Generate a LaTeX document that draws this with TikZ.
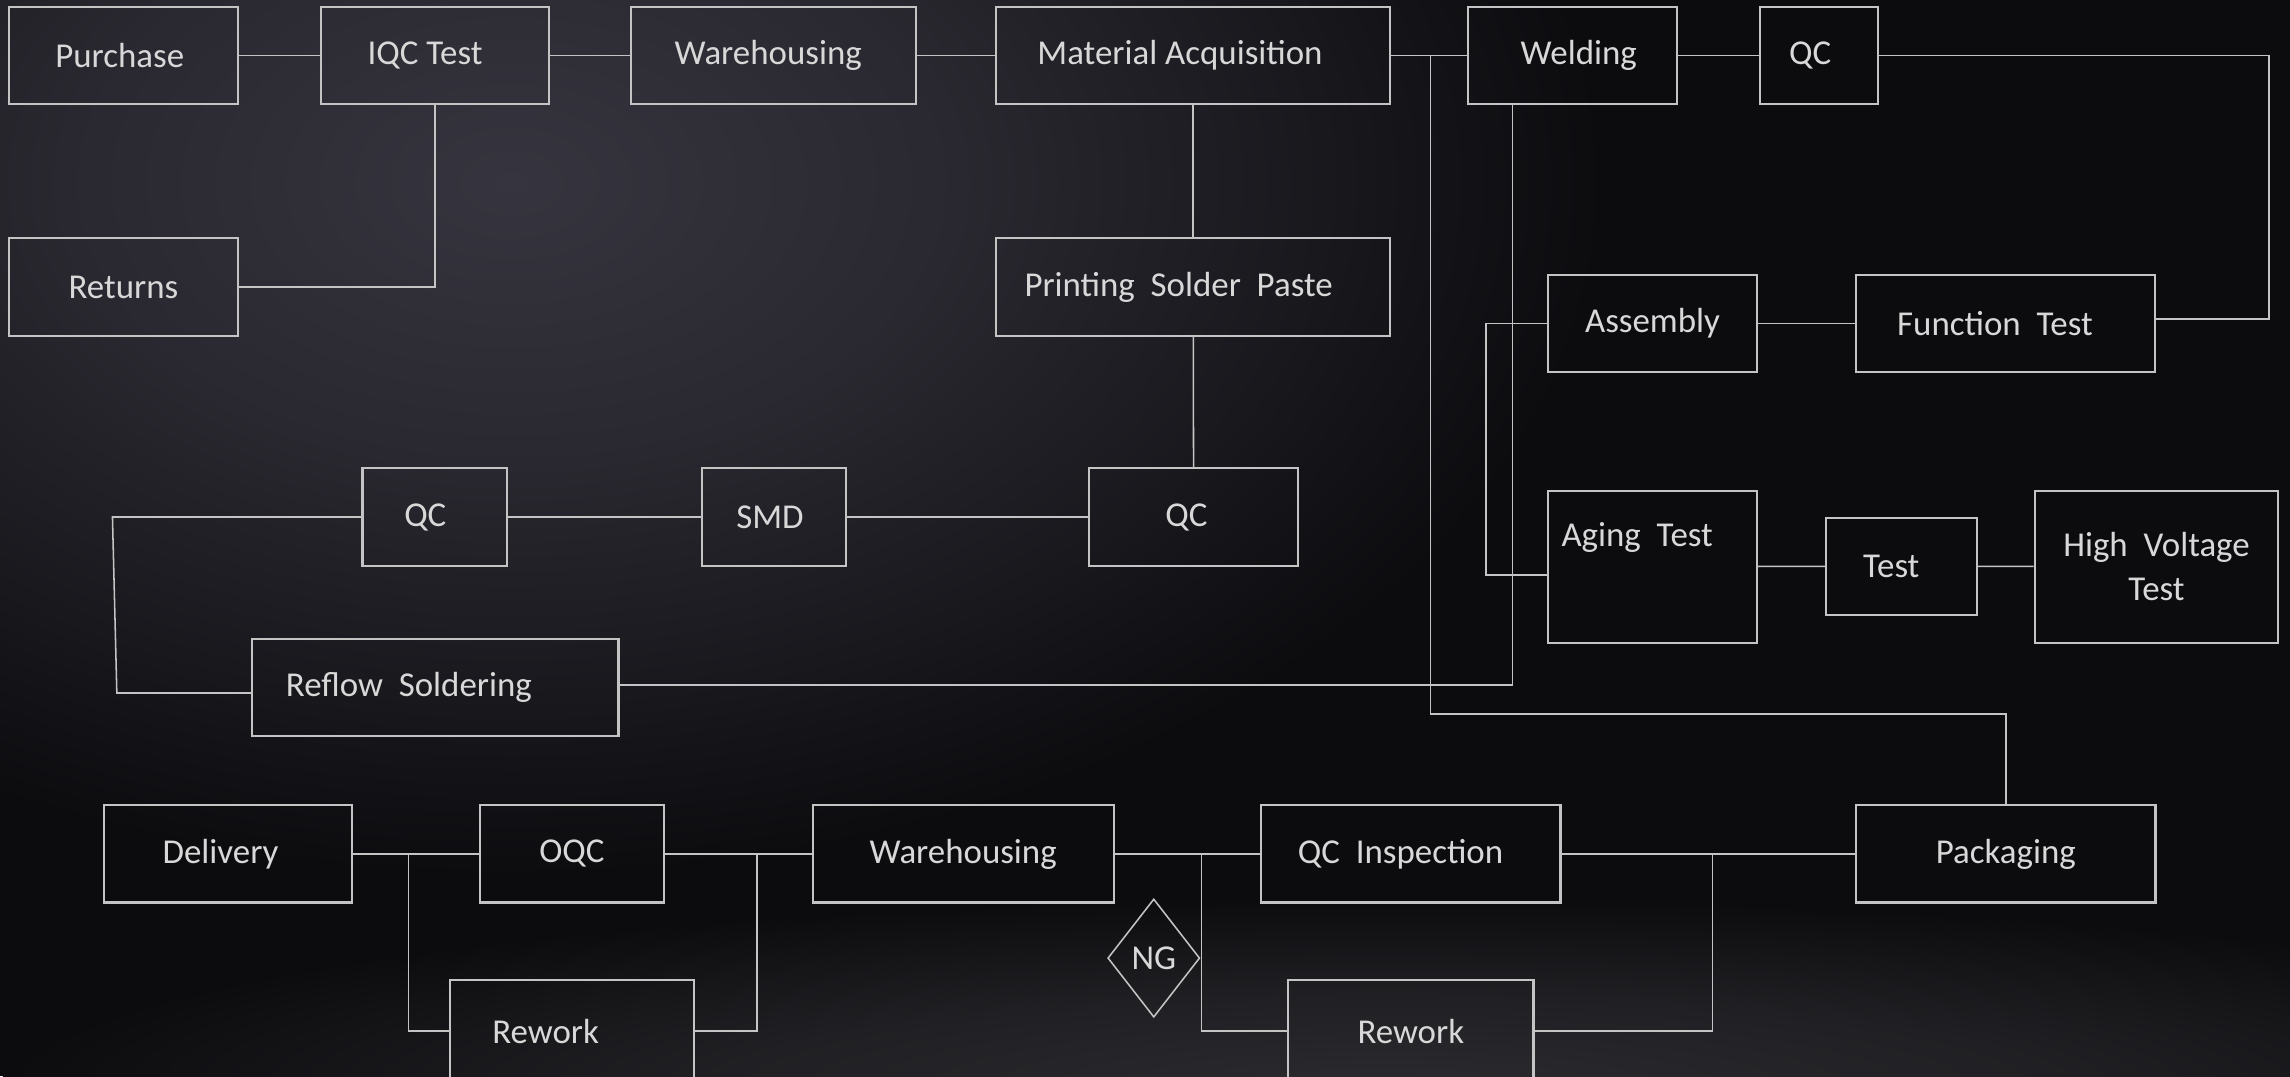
\documentclass[tikz,border=0pt]{standalone}
\usepackage{fontspec}
\setmainfont{Carlito}
\usepackage{xcolor}
\usepackage{tikz}
\usetikzlibrary{shapes.geometric, positioning}
\definecolor{bgdark}{HTML}{0C0C0F}
\definecolor{glowtop}{HTML}{36343E}
\definecolor{glowlow}{HTML}{2B2B2F}
\definecolor{edgegray}{HTML}{C4C4C4}
\definecolor{txtgray}{HTML}{D8D8D8}
\pgfdeclareradialshading{topglow}{\pgfpointorigin}{color(0bp)=(glowtop); color(10bp)=(glowtop!70!bgdark); color(25bp)=(bgdark); color(50bp)=(bgdark)}
\pgfdeclareradialshading{lowglow}{\pgfpointorigin}{color(0bp)=(glowlow); color(12bp)=(glowlow!65!bgdark); color(25bp)=(bgdark); color(50bp)=(bgdark)}
\tikzset{
  stagetext/.style={text=txtgray, font=\fontsize{13.6}{17}\selectfont},
  stage/.style={rectangle, draw=edgegray, line width=0.8pt, stagetext, align=center, inner sep=2pt, minimum height=1.33cm},
  nudge/.style={execute at begin node={\hspace*{#1}}, execute at end node={\hspace*{-#1}}},
  ngmark/.style={diamond, draw=edgegray, line width=0.6pt, stagetext, inner sep=0pt, minimum width=1.26cm, minimum height=1.62cm},
  link/.style={draw=edgegray, line width=0.6pt}
}
\begin{document}
\begin{tikzpicture}[x=0.02cm, y=-0.02cm]
  \useasboundingbox (0,0) rectangle (1568,737);
  \begin{scope}
    \clip (0,0) rectangle (1568,737);
    \fill[bgdark] (0,0) rectangle (1568,737);
    \shade[shading=topglow] (350,125) ellipse [x radius=15cm, y radius=9.5cm];
    \shade[shading=lowglow] (950,745) ellipse [x radius=19cm, y radius=2.6cm];
  \end{scope}

  \node[stage, minimum width=3.14cm, minimum height=1.32cm, nudge=-0.05cm] (pur) at (84.5,38) {Purchase};
  \node[stage, minimum width=3.12cm, minimum height=1.32cm, nudge=-0.14cm] (iqc) at (298,38) {IQC Test};
  \node[stage, minimum width=3.90cm, minimum height=1.32cm, nudge=-0.07cm] (wh1) at (529.5,38) {Warehousing};
  \node[stage, minimum width=5.40cm, minimum height=1.32cm, nudge=-0.18cm] (mat) at (817,38) {Material Acquisition};
  \node[stage, minimum width=2.86cm, minimum height=1.32cm, nudge=0.09cm] (weld) at (1076.5,38) {Welding};
  \node[stage, minimum width=1.62cm, minimum height=1.32cm, nudge=-0.12cm] (qc1) at (1245.5,38) {QC};
  \node[stage, minimum width=3.14cm] (ret) at (84.5,196.5) {Returns};
  \node[stage, minimum width=5.40cm, nudge=-0.2cm] (paste) at (817,196.5) {Printing\ \ Solder\ \ Paste};
  \node[stage, minimum width=2.86cm] (asm) at (1131.5,221.5) {Assembly};
  \node[stage, minimum width=4.10cm, nudge=-0.14cm] (func) at (1373,221.5) {Function\ \ Test};
  \node[stage, minimum width=1.98cm, nudge=-0.13cm] (qc2) at (297.7,354) {QC};
  \node[stage, minimum width=1.97cm, nudge=-0.05cm] (smd) at (529.7,354) {SMD};
  \node[stage, minimum width=2.86cm, nudge=-0.1cm] (qc3) at (817.3,354) {QC};
  \node[stage, minimum width=5.02cm, nudge=-0.36cm] (reflow) at (298,470.5) {Reflow\ \ Soldering};
  \node[stage, minimum width=2.86cm, minimum height=2.08cm,
        label={[stagetext, xshift=-0.21cm, yshift=0.40cm]center:Aging\ \ Test}] (aging) at (1131.5,388) {};
  \node[stage, minimum width=2.06cm, nudge=-0.14cm] (test) at (1302,387.7) {Test};
  \node[stage, minimum width=3.34cm, minimum height=2.08cm] (hv) at (1476.6,388) {High\ \ Voltage\\Test};
  \node[stage, minimum width=3.40cm, nudge=-0.1cm] (deliv) at (156,584.7) {Delivery};
  \node[stage, minimum width=2.52cm] (oqc) at (391.6,584.7) {OQC};
  \node[stage, minimum width=4.12cm] (wh2) at (659.5,584.7) {Warehousing};
  \node[stage, minimum width=4.10cm, nudge=-0.14cm] (qcin) at (966,584.7) {QC\ \ Inspection};
  \node[stage, minimum width=4.10cm] (pack) at (1373.4,584.7) {Packaging};
  \node[stage, minimum width=3.34cm, minimum height=1.40cm, nudge=-0.36cm] (rw1) at (391.6,706) {Rework};
  \node[stage, minimum width=3.36cm, minimum height=1.40cm] (rw2) at (966,706) {Rework};
  \node[ngmark] (ng) at (790,656) {NG};

  \coordinate (mj) at (979.5,489);
  \coordinate (wt) at (1035.6,469);
  \coordinate (ab) at (1017.6,393.7);
  \coordinate (rt) at (1553.6,218.4);
  \coordinate (lp1) at (77,354);
  \coordinate (lp2) at (80,474.5);
  \coordinate (j1) at (279.8,584.7);
  \coordinate (j2) at (518.2,584.7);
  \coordinate (j3) at (822.8,584.7);
  \coordinate (j4) at (1172.6,584.7);

  \draw[link] (pur) -- (iqc);
  \draw[link] (iqc) -- (wh1);
  \draw[link] (wh1) -- (mat);
  \draw[link] (mat) -- (weld);
  \draw[link] (weld) -- (qc1);
  \draw[link] (qc1) -- (qc1 -| rt) -- (rt) -- (rt -| func.east);
  \draw[link] (iqc) |- (ret);
  \draw[link] (mat) -- (paste);
  \draw[link] (paste) -- (qc3);
  \draw[link] (qc3) -- (smd);
  \draw[link] (smd) -- (qc2);
  \draw[link] (qc2) -- (lp1) -- (lp2) -- (lp2 -| reflow.west);
  \draw[link] (reflow.east |- wt) -- (wt) -- (wt |- weld.south);
  \draw[link] (mj |- mat.east) -- (mj) -| (pack);
  \draw[link] (asm) -- (func);
  \draw[link] (asm.west) -| (ab) -- (ab -| aging.west);
  \draw[link] (aging) -- (test);
  \draw[link] (test) -- (hv);
  \draw[link] (deliv) -- (oqc);
  \draw[link] (oqc) -- (wh2);
  \draw[link] (wh2) -- (qcin);
  \draw[link] (qcin) -- (pack);
  \draw[link] (j1) |- (rw1.west);
  \draw[link] (j2) |- (rw1.east);
  \draw[link] (j3) |- (rw2.west);
  \draw[link] (j4) |- (rw2.east);
\end{tikzpicture}
\end{document}
